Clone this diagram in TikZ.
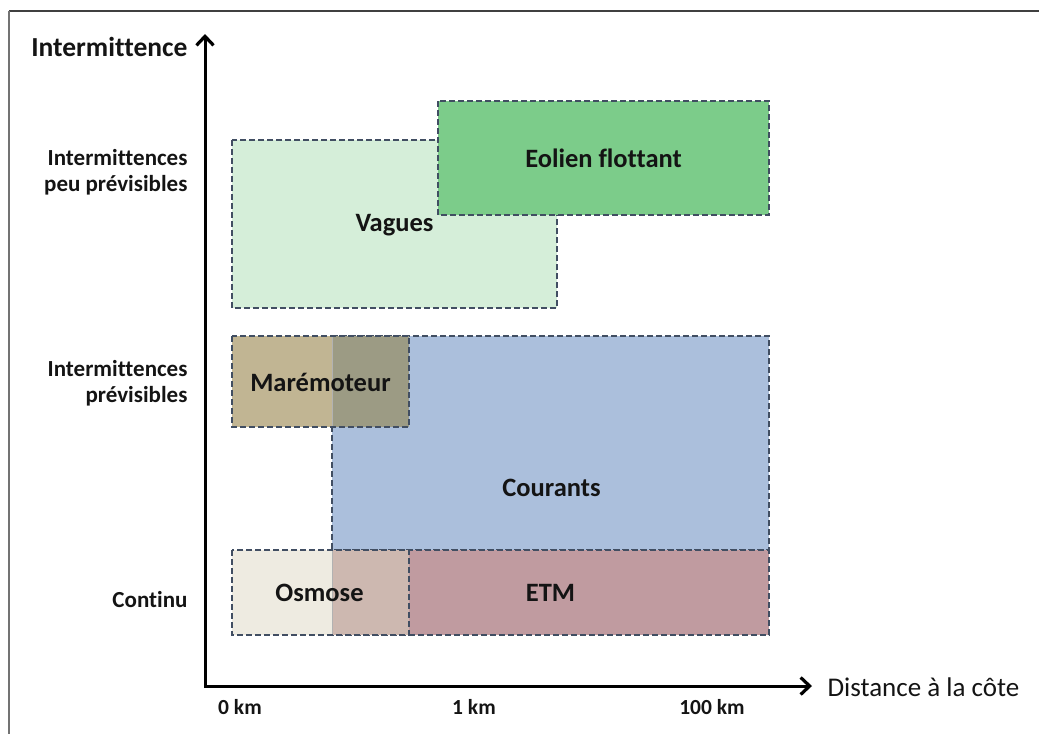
\documentclass[tikz,border=0pt]{standalone}
\usepackage{fontspec}
\setmainfont{Carlito}[Ligatures=NoCommon]
\usetikzlibrary{arrows.meta}
\definecolor{bordc}{HTML}{414E62}
\definecolor{vagc}{HTML}{D5EED9}
\definecolor{eolc}{HTML}{7CCC8A}
\definecolor{marc}{HTML}{C1B593}
\definecolor{marcour}{HTML}{9C9B84}
\definecolor{courc}{HTML}{ABBFDC}
\definecolor{osmc}{HTML}{EEEBE1}
\definecolor{osmetm}{HTML}{CDB8B0}
\definecolor{etmc}{HTML}{C09BA0}
\definecolor{txt}{HTML}{141414}
\tikzset{
  zoneborder/.style={draw=bordc, line width=1.8pt, dash pattern=on 6pt off 3pt},
  zonetext/.style={text=txt, font=\bfseries\fontsize{26.5}{30}\selectfont},
  sidelabel/.style={text=txt, align=right, anchor=east, font=\bfseries\fontsize{23}{25.5}\selectfont},
  kmlabel/.style={text=txt, font=\bfseries\fontsize{21.5}{24}\selectfont},
  axisline/.style={line width=3pt, black, line join=miter, >={Straight Barb[length=9pt,width=17pt,line width=3.2pt]}},
  faint/.style={draw=gray!60, line width=0.5pt}
}
\begin{document}
\begin{tikzpicture}[x=1pt,y=-1pt]
\useasboundingbox (0,0) rectangle (1039,734);
% frame
\draw[line width=1.2pt, black!75] (9,11) -- (1039,11);
\draw[line width=1.2pt, black!55] (9,11) -- (9,734);
% zone corners
\coordinate (vagNW) at (232,140); \coordinate (vagSE) at (557,308);
\coordinate (eolNW) at (438,101); \coordinate (eolSE) at (769,215);
\coordinate (courNW) at (332,336); \coordinate (courSE) at (769,550);
\coordinate (marNW) at (232,336); \coordinate (marSE) at (409,427);
\coordinate (etmNW) at (332,550); \coordinate (etmSE) at (769,635);
\coordinate (osmNW) at (232,550); \coordinate (osmSE) at (409,635);
% fills and borders
\filldraw[zoneborder, fill=vagc] (vagNW) rectangle (vagSE);
\filldraw[zoneborder, fill=eolc] (eolNW) rectangle (eolSE);
\filldraw[zoneborder, fill=courc] (courNW) rectangle (courSE);
\filldraw[zoneborder, fill=etmc] (etmNW) rectangle (etmSE);
\fill[marc] (marNW) rectangle (marSE);
\fill[marcour] (courNW) rectangle (marSE);
\draw[faint] (courNW) -- (courNW |- marSE);
\draw[zoneborder] (marNW) rectangle (marSE);
\fill[osmc] (osmNW) rectangle (osmSE);
\fill[osmetm] (etmNW) rectangle (osmSE);
\draw[faint] (etmNW) -- (etmNW |- osmSE);
\draw[zoneborder] (osmNW) rectangle (osmSE);
% zone labels
\node[zonetext] (vag) at (394.5,225) {Vagues};
\node[zonetext] (eol) at (603.5,158) {Eolien flottant};
\node[zonetext] (cour) at (551.5,488) {Courants};
\node[zonetext] (mar) at (320.5,382) {Marémoteur};
\node[zonetext] (etm) at (550.5,593) {ETM};
\node[zonetext] (osm) at (319.5,593) {Osmose};
% axes
\coordinate (O) at (205,686);
\coordinate (ytip) at (205,34);
\coordinate (xtip) at (812,686);
\draw[axisline, <->] (ytip) -- (O) -- (xtip);
% axis titles
\node[text=txt, anchor=east, font=\bfseries\fontsize{27.5}{30}\selectfont] (ytitle) at (191,47) {Intermittence};
\node[text=txt, anchor=west, font=\fontsize{27}{30}\selectfont] (xtitle) at (824,687) {Distance à la côte};
% side labels
\node[sidelabel] (l1) at (191,172) {Intermittences\\peu prévisibles};
\node[sidelabel] (l2) at (191,383) {Intermittences\\prévisibles};
\node[sidelabel] (l3) at (191,600) {Continu};
% km labels
\node[kmlabel] (k0) at (240,707) {0 km};
\node[kmlabel] (k1) at (474,707) {1 km};
\node[kmlabel] (k2) at (712,707) {100 km};
\end{tikzpicture}
\end{document}
